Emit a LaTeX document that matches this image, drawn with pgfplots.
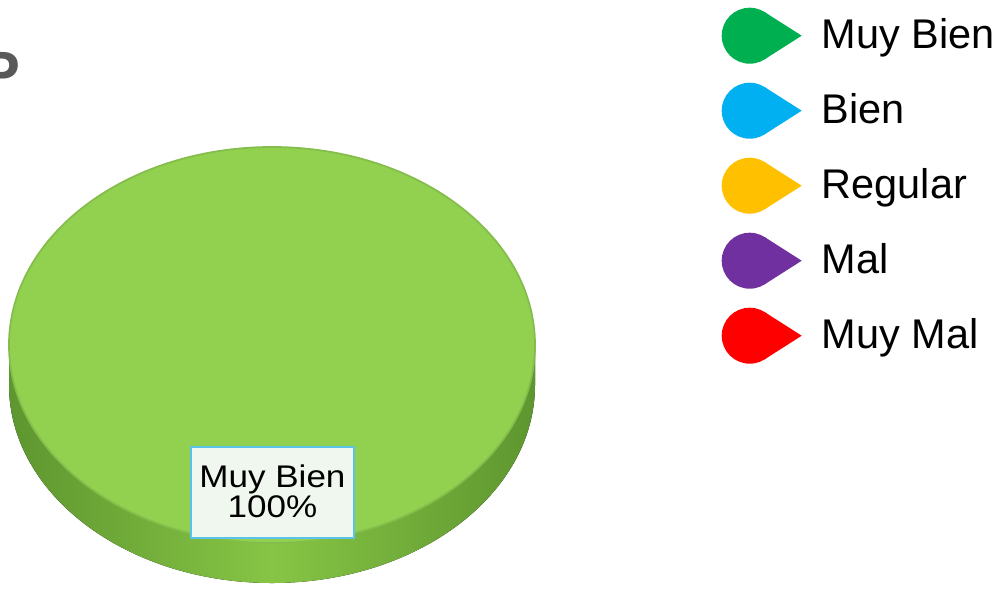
\documentclass[border=0pt]{standalone}
\usepackage{pgfplots}
\pgfplotsset{compat=1.18}
\usepackage{pgfplotstable}
\usepackage{fontspec}
\setmainfont{Liberation Sans}

\definecolor{muybien}{HTML}{00B050}
\definecolor{bien}{HTML}{00B0F0}
\definecolor{regular}{HTML}{FFC000}
\definecolor{mal}{HTML}{7030A0}
\definecolor{muymal}{HTML}{FF0000}
\definecolor{piegreen}{HTML}{92D050}
\definecolor{pieedge}{HTML}{84BD4C}
\definecolor{sidedark}{HTML}{5E962F}
\definecolor{sidelight}{HTML}{86C545}
\definecolor{labelfill}{HTML}{EFF7EE}
\definecolor{labeldraw}{HTML}{5BC2EA}
\definecolor{titlegray}{HTML}{595959}

\pgfplotstableread{
label value
MuyBien 100
Bien 0
Regular 0
Mal 0
MuyMal 0
}\piedata

\pgfplotsset{
  teardrop/.style={draw=none, legend image code/.code={
    \fill (0.28cm,0cm) circle[radius=0.28cm];
    \fill (0.428cm,0.237cm) -- (0.80cm,0cm) -- (0.428cm,-0.237cm) -- (0.28cm,0cm) -- cycle;
  }}
}

\begin{document}
\begin{tikzpicture}
\begin{axis}[
  hide axis, scale only axis,
  width=10.05cm, height=5.88cm,
  xmin=0, xmax=1005, ymin=0, ymax=588,
  clip=true,
  legend cell align=left,
  legend style={draw=none, fill=none,
    at={(0.7174,0.9881)}, anchor=north west,
    inner sep=0pt, row sep=0.19cm, column sep=0.2cm,
    font=\fontsize{11.8}{13}\selectfont,
    nodes={inner sep=0pt}},
]
\addlegendimage{teardrop, fill=muybien}
\addlegendimage{teardrop, fill=bien}
\addlegendimage{teardrop, fill=regular}
\addlegendimage{teardrop, fill=mal}
\addlegendimage{teardrop, fill=muymal}
\legend{Muy Bien, Bien, Regular, Mal, Muy Mal}

\pgfplotstablegetelem{0}{value}\of\piedata
\let\vA\pgfplotsretval
\pgfmathsetmacro\angA{\vA*3.6}

% side (depth) of the 3D pie
\fill[left color=sidedark, right color=sidedark, middle color=sidelight]
  (axis cs:9,243) -- (axis cs:9,203)
  arc[start angle=180, end angle=360, x radius=2.63cm, y radius=1.98cm]
  -- (axis cs:535,243)
  arc[start angle=0, end angle=-180, x radius=2.63cm, y radius=1.98cm] -- cycle;

% top face: Muy Bien slice
\fill[piegreen] (axis cs:272,243) -- ++(90:2.63cm and 1.98cm)
  arc[start angle=90, delta angle=-\angA, x radius=2.63cm, y radius=1.98cm] -- cycle;
\draw[pieedge, line width=0.5pt] (axis cs:272,243) ellipse[x radius=2.63cm, y radius=1.98cm];

% data label
\draw[fill=labelfill, draw=labeldraw, line width=0.6pt]
  (axis cs:191,50) rectangle (axis cs:354,141);
\node[align=center, inner sep=0pt, xscale=1.12,
  font=\fontsize{8.9}{8.55}\selectfont]
  at (axis cs:272.5,97) {Muy Bien\\\vA\%};

% clipped title letter
\node[anchor=north east, inner sep=0pt, text=titlegray,
  font=\fontsize{17}{17}\bfseries\selectfont]
  at (axis cs:21,536) {P};
\end{axis}
\pgfresetboundingbox
\path (0,0) rectangle (10.05cm,5.88cm);
\end{tikzpicture}
\end{document}
